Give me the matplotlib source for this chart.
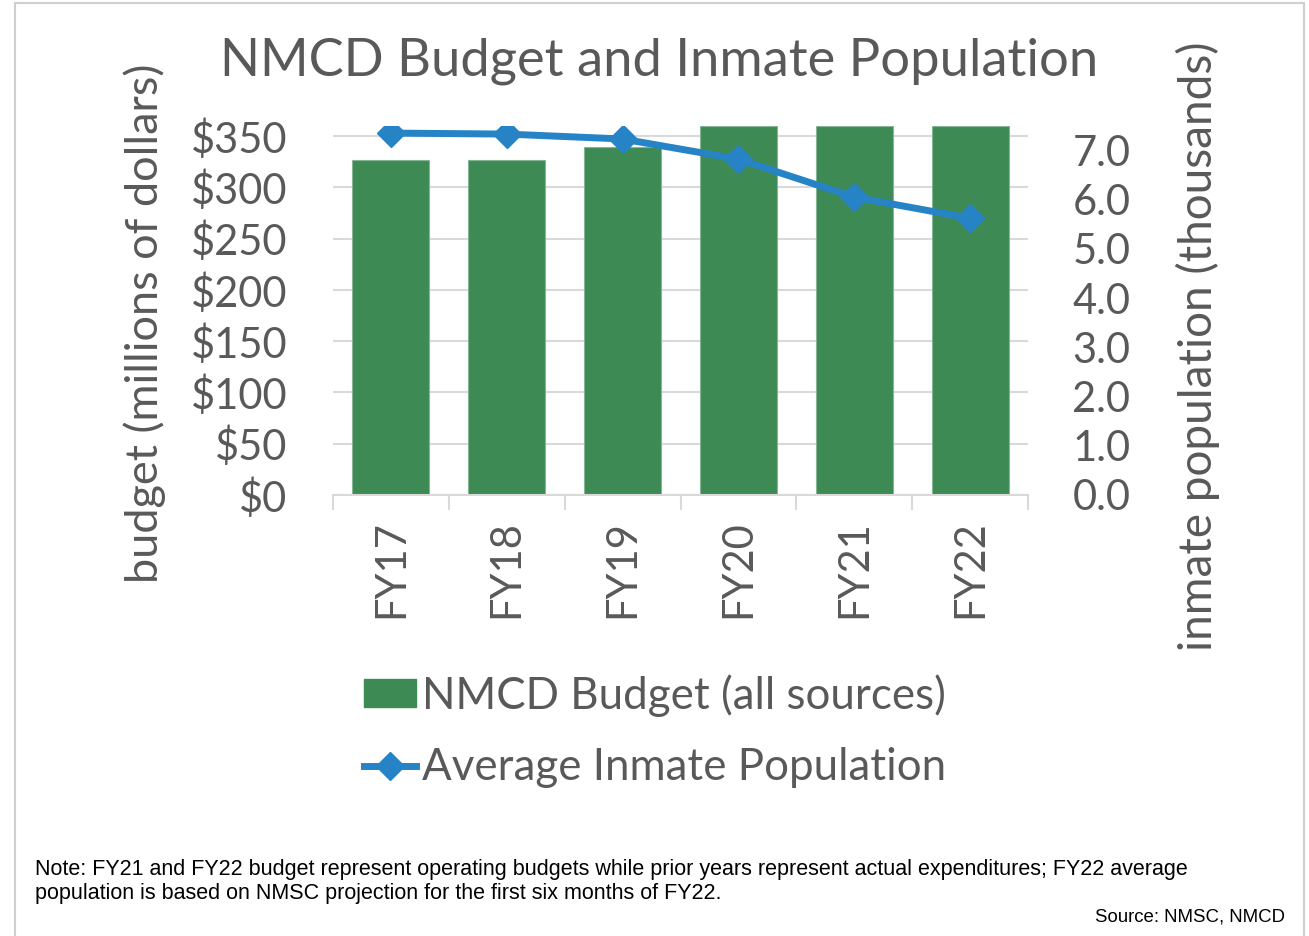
import numpy as np
import matplotlib
matplotlib.use('Agg')
import matplotlib.pyplot as plt
from matplotlib.patches import Rectangle

# Data
years = ['FY17', 'FY18', 'FY19', 'FY20', 'FY21', 'FY22']
budget = [327, 327, 339, 360, 360, 360]          # millions of dollars (FY20-22 reach past the axis top)
population = [7.35, 7.33, 7.23, 6.82, 6.05, 5.62]  # thousands
budget_ticks = [0, 50, 100, 150, 200, 250, 300, 350]
pop_ticks = [0, 1, 2, 3, 4, 5, 6, 7]

TEXT = '#595959'
GRID = '#d9d9d9'
GREEN = '#3e8a55'
BLUE = '#2683c6'
FONT = 'Lato'

W, H = 1309, 936
fig = plt.figure(figsize=(W / 100, H / 100), dpi=100)
fig.patch.set_facecolor('white')

# outer frame of the chart image
fig.add_artist(Rectangle((15 / W, -0.01), (1304 - 15) / W, (936 - 3) / H + 0.01,
                         transform=fig.transFigure, fill=False, edgecolor='#cfcfcf', lw=1.5))

ax = fig.add_axes([333 / W, 1 - 495 / H, (1028 - 333) / W, (495 - 125.7) / H])
x = np.arange(len(years))
ax.bar(x, budget, width=0.665, color=GREEN, edgecolor='#86b593', linewidth=0.8, zorder=2)
ax.set_xlim(-0.5, len(years) - 0.5)
ax.set_ylim(0, 360)
ax.set_yticks(budget_ticks)
ax.set_yticklabels([f'${v}' for v in budget_ticks])
ax.grid(axis='y', color=GRID, lw=1.5, zorder=0)
ax.set_axisbelow(True)
for s in ['top', 'left', 'right']:
    ax.spines[s].set_visible(False)
ax.spines['bottom'].set_color(GRID)
ax.spines['bottom'].set_linewidth(1.5)
ax.set_xticks(x)
ax.set_xticklabels(years, rotation=90, va='top', ha='center')
ax.set_xticks(np.arange(-0.5, len(years)), minor=True)
ax.tick_params(axis='x', which='major', length=0, pad=18, labelsize=30, labelcolor=TEXT)
ax.tick_params(axis='x', which='minor', length=11, width=1.5, color=GRID, direction='out')
ax.tick_params(axis='y', length=0, pad=33, labelsize=30, labelcolor=TEXT)
for t in ax.get_xticklabels() + ax.get_yticklabels():
    t.set_fontfamily(FONT)
ax.set_ylabel('budget (millions of dollars)', fontsize=32.5, color=TEXT, family=FONT)
ax.yaxis.set_label_coords(-0.240, 0.466)

ax2 = ax.twinx()
ax2.plot(x, population, color=BLUE, lw=5, marker='D', ms=14, zorder=3,
         solid_capstyle='round')
ax2.set_ylim(0, 7.5)
ax2.set_yticks(pop_ticks)
ax2.set_yticklabels([f'{v:.1f}' for v in pop_ticks])
for s in ax2.spines.values():
    s.set_visible(False)
ax2.tick_params(axis='y', length=0, pad=32, labelsize=30, labelcolor=TEXT)
for t in ax2.get_yticklabels():
    t.set_fontfamily(FONT)
ax2.set_ylabel('inmate population (thousands)', fontsize=33, color=TEXT, family=FONT)
ax2.yaxis.set_label_coords(1.213, 0.402)

fig.text(659 / W, 1 - 61 / H, 'NMCD Budget and Inmate Population', ha='center', va='center',
         fontsize=37.8, color=TEXT, family=FONT)

# legend below the category axis
h1 = Rectangle((0, 0), 1, 1, color=GREEN)
h2 = plt.Line2D([], [], color=BLUE, lw=5, marker='D', ms=14)
leg = fig.legend([h1, h2], ['NMCD Budget (all sources)', 'Average Inmate Population'],
                 loc='upper left', bbox_to_anchor=(364 / W, 1 - 674 / H), frameon=False,
                 prop={'family': FONT, 'size': 31.6}, labelcolor=TEXT, handlelength=1.18,
                 handleheight=0.62, handletextpad=0.14, labelspacing=0.7, borderpad=0,
                 borderaxespad=0)

fig.text(35 / W, 1 - 869 / H,
         'Note: FY21 and FY22 budget represent operating budgets while prior years represent '
         'actual expenditures; FY22 average',
         ha='left', va='center', fontsize=15.5, family='Liberation Sans', color='black')
fig.text(35 / W, 1 - 893 / H,
         'population is based on NMSC projection for the first six months of FY22.',
         ha='left', va='center', fontsize=15.5, family='Liberation Sans', color='black')
fig.text(1285 / W, 1 - 917 / H, 'Source: NMSC, NMCD', ha='right', va='center',
         fontsize=13.4, family='Liberation Sans', color='black')

fig.savefig('out.png', dpi=100, facecolor='white')
